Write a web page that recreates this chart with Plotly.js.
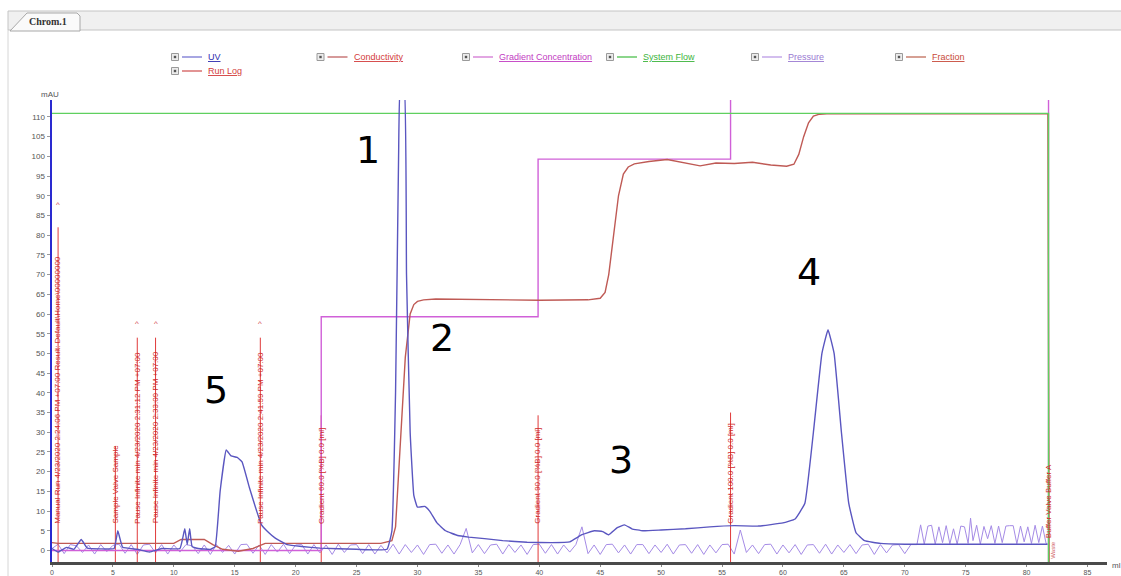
<!DOCTYPE html>
<html><head><meta charset="utf-8">
<script src="https://cdn.plot.ly/plotly-3.0.1.min.js"></script>
<style>html,body{margin:0;padding:0;background:#fff;overflow:hidden}#chart{width:1121px;height:576px}</style>
</head><body><div id="chart"></div>
<script>
// ---------------- DATA ----------------
const uvX = [0,0.5,1.2,1.8,2.4,2.9,4.0,5.1,5.4,5.8,7.0,8.0,9.0,10.5,10.9,11.1,11.3,11.5,12.0,13.0,13.4,13.8,14.3,14.7,15.2,15.6,16.2,16.8,17.2,17.8,18.3,19.3,20.5,22.0,25.0,27.5,27.9,28.2,28.45,28.6,28.9,29.1,29.4,29.7,30.0,30.6,31.0,31.6,32.3,33.3,34.2,35.5,37.0,39.0,41.0,42.5,43.5,44.5,45.2,45.7,46.4,47.0,47.6,48.5,50.0,52.0,54.0,56.0,58.0,60.0,61.0,61.8,62.5,63.2,63.7,64.2,64.8,65.4,66.0,66.7,68.0,70.0,72.0,76.0,81.7];
const uvY = [0.5,-0.4,0.8,0.3,2.8,0.6,0.4,0.5,5.0,0.8,0.3,-0.4,0.5,0.5,5.5,1.5,5.5,1.0,0.5,0.3,1.0,15,25.5,24.0,23.6,22.5,16,10,6.5,4.5,3.2,1.5,1.0,0.6,0.3,0.3,5,40,100,118,118,70,30,14,11,11.2,10,7,5,3.8,3.4,3.0,2.5,2.1,2.0,2.2,4.0,5.0,4.8,4.0,5.8,6.5,5.5,5.0,5.2,5.5,6.0,6.3,6.2,7.0,8.0,12,30,50,56,50,30,12,4.5,2.5,1.8,1.6,1.6,1.6,1.6];

const condX = [0,0.5,10,10.6,12.5,13.2,14,15.3,16.5,17.5,27,27.6,27.9,28.2,28.6,29.0,29.4,29.7,30.0,30.5,31.5,35,40,44,45.0,45.4,45.7,46.1,46.5,46.9,47.3,47.8,49,50.5,52,53.2,54.5,56,57.5,59,60.3,60.9,61.3,61.7,62.1,62.5,63.0,63.6,81.75,81.85];
const condY = [2.0,1.8,1.8,2.8,2.8,1.5,0.3,-0.2,0.5,1.8,1.8,2.2,2.5,6,28,49,60,62.4,63.2,63.6,63.8,63.7,63.5,63.6,64,65.5,70,80,90,95.5,97.3,98.1,98.7,99.2,98.4,97.6,98.3,98.2,98.5,97.8,97.5,98.0,100.5,105,108.5,110.2,110.7,110.8,110.8,-3];

const gradX = [0,22.1,22.1,39.9,39.9,55.7,55.7,81.8,81.8];
const gradY = [0,0,59.3,59.3,99.3,99.3,125,125,-3];

const flowX = [0,81.8,81.8];
const flowY = [110.9,110.9,-3];

const presX = [0,0.5,1,1.5,2,2.5,3,3.5,4,4.5,5,5.5,6,6.5,7,7.5,8,8.5,9,9.5,10,10.5,11,11.5,12,12.5,13,13.5,14,14.5,15,15.5,16,16.5,17,17.5,18,18.5,19,19.5,20,20.5,21,21.5,22,22.5,23,23.5,24,24.5,25,25.5,26,26.5,27,27.5,28,28.5,29,29.5,30,30.5,31,31.5,32,32.5,33,33.5,34,34.5,35,35.5,36,36.5,37,37.5,38,38.5,39,39.5,40,40.5,41,41.5,42,42.5,43,43.5,44,44.5,45,45.5,46,46.5,47,47.5,48,48.5,49,49.5,50,50.5,51,51.5,52,52.5,53,53.5,54,54.5,55,55.5,56,56.5,57,57.5,58,58.5,59,59.5,60,60.5,61,61.5,62,62.5,63,63.5,64,64.5,65,65.5,66,66.5,67,67.5,68,68.5,69,69.5,70,70.5,
71.0,71.3,71.6,71.9,72.2,72.5,72.8,73.1,73.4,73.7,74.0,74.3,74.6,74.9,75.2,75.4,75.6,75.9,76.2,76.5,76.8,77.1,77.4,77.7,78.0,78.3,78.6,78.9,79.2,79.5,79.8,80.1,80.4,80.7,81.0,81.3,81.6,81.8];
const presY = [0.5,1.6,-0.8,1.5,1.2,-0.5,1.4,-0.9,1.5,-0.3,
1.3,1.6,-0.7,1.5,-1.0,1.4,1.6,-0.6,1.5,-0.9,
1.4,-0.4,1.5,1.2,-0.8,1.4,-1.0,1.5,-0.5,1.3,
-0.9,1.5,1.6,-0.7,1.4,-1.0,1.5,-0.4,1.6,-0.8,
1.4,1.5,-0.9,1.5,-0.6,1.4,-1.0,1.6,-0.5,1.4,
1.5,-0.8,1.5,-0.9,1.3,-0.6,1.6,-0.9,1.5,-0.5,
1.4,-1.0,1.5,1.6,-0.7,1.4,-0.9,1.5,5.6,-0.6,
1.5,-0.8,1.4,1.6,-0.9,1.5,-0.5,1.4,-1.0,1.5,
1.6,-0.7,1.5,-0.9,1.4,-0.4,1.5,6.0,-0.8,1.4,
-1.0,1.5,1.6,-0.6,1.4,-0.9,1.5,1.5,-0.8,1.4,
-0.5,1.6,-0.9,1.4,1.5,-0.7,1.5,-1.0,1.4,-0.6,
1.5,1.6,-0.9,5.2,-0.5,1.4,-0.8,1.5,1.6,-0.9,
1.4,-0.6,1.5,-1.0,1.4,1.5,-0.7,1.6,-0.9,1.4,
-0.5,1.5,-0.8,1.4,1.6,-1.0,1.5,-0.6,1.4,1.5,
-0.8,1.5,
1.5,6.5,1.6,6.2,6.4,1.6,6.0,2.0,6.3,1.7,5.5,1.6,6.2,6.0,1.8,8.2,2.5,6.4,1.6,6.1,3.0,6.3,1.8,6.2,2.0,6.2,6.3,6.3,1.7,6.2,2.2,6.0,1.8,6.4,2.0,6.2,1.8,1.5];

const runLogX = [0.5,5.2,7.0,8.5,17.1,22.1,39.9,55.7,81.8];
const runLogTop = [82,26.5,54,54,54,34.3,34.3,35,27];
const runLogText = [
 'Manual Run 4/23/2020 2:24:06 PM +07:00 Result: Default\\Home\\00000000',
 'Sample Valve Sample',
 'Pause Infinite min 4/23/2020 2:31:12 PM +07:00',
 'Pause Infinite min 4/23/2020 2:33:09 PM +07:00',
 'Pause Infinite min 4/23/2020 2:41:59 PM +07:00',
 'Gradient 60.0 [%B] 0.0 [ml]',
 'Gradient 90.0 [%B] 0.0 [ml]',
 'Gradient 100.0 [%B] 0.0 [ml]',
 'Buffer Valve Buffer A'
];
const runLogCaret = [87.7,null,57.7,57.7,57.7,null,null,null,null];

const legendNames = ['UV','Conductivity','Gradient Concentration','System Flow','Pressure','Fraction','Run Log'];
const peakLabels = ['1','2','3','4','5'];
const xTickLabels = ['0','5','10','15','20','25','30','35','40','45','50','55','60','65','70','75','80','85'];
const yTickLabels = ['0','5','10','15','20','25','30','35','40','45','50','55','60','65','70','75','80','85','90','95','100','105','110'];

// ---------------- STYLE / LAYOUT ----------------
const L=52, R=1107, T=100, B=562, W=R-L, H=B-T;
const px = x => (x-L)/W;
const py = y => (B-y)/H;
const FONT = 'Liberation Sans, Arial, sans-serif';

const rlx=[], rly=[];
runLogX.forEach((x,i)=>{ rlx.push(x,x,null); rly.push(-3,runLogTop[i],null); });

const traces = [
 {x:presX,y:presY,mode:'lines',line:{color:'#a58be6',width:1},name:'Pressure'},
 {x:rlx,y:rly,mode:'lines',line:{color:'#e03a3a',width:1},name:'Run Log'},
 {x:gradX,y:gradY,mode:'lines',line:{color:'#d060d8',width:1.4},name:'Gradient Concentration'},
 {x:condX,y:condY,mode:'lines',line:{color:'#bf5a55',width:1.4},name:'Conductivity'},
 {x:flowX,y:flowY,mode:'lines',line:{color:'#5fd05f',width:1.4},name:'System Flow'},
 {x:uvX,y:uvY,mode:'lines',line:{color:'#5a56c0',width:1.4,shape:'spline',smoothing:0.3},name:'UV'}
];

const legendColors = ['#2c2cae','#d33b3b','#c23cc2','#3cb43c','#9a7ad2','#c84a3a','#d33b3b'];
const legendLine = ['#8a88d8','#c87878','#d888d8','#66c866','#c4a8e8','#c88070','#d87070'];
const legendCx = [175,320.5,466,610,755,899,175];
const legendCy = [57,57,57,57,57,57,71];

const shapes = [];
const annotations = [];

// header bar and tab
shapes.push({type:'rect',xref:'paper',yref:'paper',x0:px(8),x1:px(1125),y0:py(30),y1:py(11),fillcolor:'#f0f0f0',line:{color:'#c4c4c4',width:1},layer:'above'});
const tabPath = 'M '+px(10)+','+py(31)+' L '+px(27)+','+py(13)+' L '+px(77)+','+py(13)+' L '+px(80)+','+py(16)+' L '+px(80)+','+py(31)+' Z';
shapes.push({type:'path',xref:'paper',yref:'paper',path:tabPath,fillcolor:'#fafafa',line:{color:'#a8a8a8',width:1},layer:'above'});
shapes.push({type:'line',xref:'paper',yref:'paper',x0:px(8),x1:px(8),y0:py(30),y1:py(580),line:{color:'#d6d6d6',width:1}});
annotations.push({xref:'paper',yref:'paper',x:px(48),y:py(21.5),xanchor:'center',yanchor:'middle',text:'<b>Chrom.1</b>',showarrow:false,font:{family:'Liberation Serif, serif',size:10,color:'#333'}});

// manual legend
legendNames.forEach((n,i)=>{
  const cx=legendCx[i], cy=legendCy[i];
  shapes.push({type:'rect',xref:'paper',yref:'paper',x0:px(cx-3.5),x1:px(cx+3.5),y0:py(cy+3.5),y1:py(cy-3.5),fillcolor:'#ececec',line:{color:'#9a9a9a',width:1}});
  shapes.push({type:'rect',xref:'paper',yref:'paper',x0:px(cx-1.2),x1:px(cx+1.2),y0:py(cy+1.2),y1:py(cy-1.2),fillcolor:'#555',line:{width:0}});
  shapes.push({type:'line',xref:'paper',yref:'paper',x0:px(cx+7),x1:px(cx+27),y0:py(cy),y1:py(cy),line:{color:legendLine[i],width:1.5}});
  annotations.push({xref:'paper',yref:'paper',x:px(cx+31),y:py(cy),xanchor:'left',yanchor:'middle',text:'<u>'+n+'</u>',showarrow:false,font:{family:FONT,size:9,color:legendColors[i]}});
});

// axis unit labels
annotations.push({xref:'paper',yref:'paper',x:px(50),y:py(94),xanchor:'center',yanchor:'middle',text:'mAU',showarrow:false,font:{family:FONT,size:8,color:'#555'}});
annotations.push({xref:'paper',yref:'paper',x:px(1110),y:py(565),xanchor:'left',yanchor:'middle',text:'ml',showarrow:false,font:{family:FONT,size:8,color:'#555'}});

// run log texts
runLogX.forEach((x,i)=>{
  const last = i===runLogX.length-1;
  annotations.push({x:x,y:last?2.5:6.3,xref:'x',yref:'y',text:runLogText[i],textangle:-90,xanchor:'center',yanchor:'bottom',showarrow:false,font:{family:FONT,size:8,color:'#d02828'}});
  if(runLogCaret[i]!==null){
    annotations.push({x:x,y:runLogCaret[i],xref:'x',yref:'y',text:'^',showarrow:false,font:{family:FONT,size:8,color:'#d04040'}});
  }
});
annotations.push({x:82.15,y:-2.5,xref:'x',yref:'y',text:'Waste',textangle:-90,xanchor:'center',yanchor:'bottom',showarrow:false,font:{family:FONT,size:6,color:'#d06060'}});

// peak numbers
const peakPos = [[25.9,101.6],[32.0,53.9],[46.7,23.0],[62.1,70.7],[13.5,40.7]];
peakLabels.forEach((t,i)=>{
  annotations.push({x:peakPos[i][0],y:peakPos[i][1],xref:'x',yref:'y',text:t,showarrow:false,font:{family:'DejaVu Sans, sans-serif',size:38,color:'#000'}});
});

const xTickVals = xTickLabels.map(Number);
const yTickVals = yTickLabels.map(Number);

const layout = {
  width:1121,height:576,autosize:false,
  margin:{l:L,r:1121-R,t:T,b:576-B,pad:0},
  paper_bgcolor:'#ffffff',plot_bgcolor:'#ffffff',
  showlegend:false,
  xaxis:{range:[0,86.6],tickmode:'array',tickvals:xTickVals,ticktext:xTickLabels,showgrid:false,zeroline:false,
         showline:true,linecolor:'#4a4a4a',linewidth:3,ticks:'outside',ticklen:2,tickcolor:'#888',ticklabelstandoff:0,
         tickfont:{family:FONT,size:7,color:'#555'}},
  yaxis:{range:[-2.92,114.3],tickmode:'array',tickvals:yTickVals,ticktext:yTickLabels,showgrid:false,zeroline:false,
         showline:true,linecolor:'#2a2ad0',linewidth:2.5,ticks:'outside',ticklen:3,tickcolor:'#999',
         tickfont:{family:FONT,size:8,color:'#555'}},
  shapes:shapes,
  annotations:annotations,
  font:{family:FONT}
};

Plotly.newPlot('chart',traces,layout,{displayModeBar:false,staticPlot:true});
</script></body></html>
